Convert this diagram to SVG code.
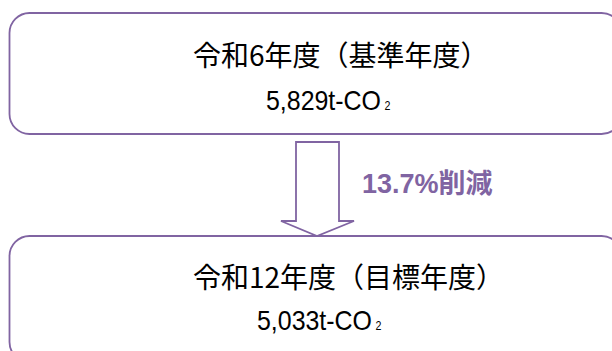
<svg xmlns="http://www.w3.org/2000/svg" width="612" height="351" viewBox="0 0 612 351">
<style>
.box{fill:#ffffff;stroke:#8064A2;stroke-width:1.8}
.t1{font-family:"Noto Sans CJK JP","Liberation Sans",sans-serif;font-size:28px;fill:#000}
.t2{font-family:"Liberation Sans","Noto Sans CJK JP",sans-serif;font-size:28px;fill:#000}
.sub{font-size:12px}
.lbl{font-family:"Liberation Sans","Noto Sans CJK JP",sans-serif;font-size:27px;font-weight:bold;fill:#8064A2}
</style>
<rect width="612" height="351" fill="#ffffff"/>
<g id="base">
<rect class="box" x="9.5" y="13" width="612" height="121" rx="20" ry="20"/>
<text class="t1" x="193" y="66">令和6年度（基準年度）</text>
<text class="t2" transform="translate(266,110) scale(0.89,1)">5,829t-CO<tspan class="sub" dx="4">2</tspan></text>
</g>
<g id="target">
<rect class="box" x="9.5" y="236" width="612" height="126" rx="20" ry="20"/>
<text class="t1" x="193" y="288">令和12年度（目標年度）</text>
<text class="t2" transform="translate(257,330) scale(0.89,1)">5,033t-CO<tspan class="sub" dx="4">2</tspan></text>
</g>
<g id="connectors">
<polygon points="296,142 339,142 339,221 354,221 317,236 281,221 296,221" fill="#ffffff" stroke="#8064A2" stroke-width="1.8" stroke-linejoin="miter"/>
<text class="lbl" x="362" y="193">13.7%削減</text>
</g>
</svg>
